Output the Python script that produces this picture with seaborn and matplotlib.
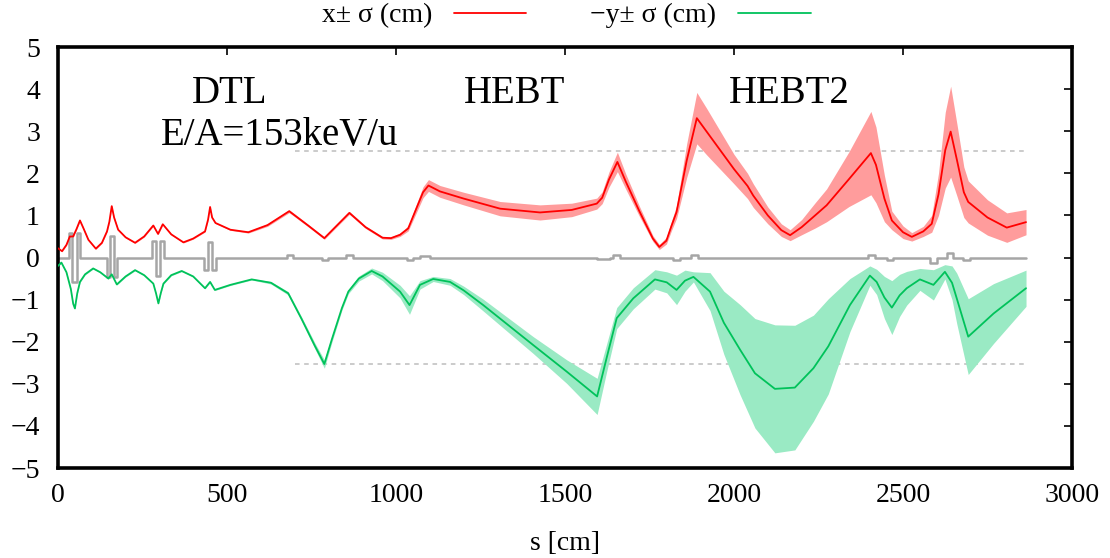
import numpy as np
import pandas as pd
import matplotlib
matplotlib.use("Agg")
import matplotlib.pyplot as plt
from matplotlib.lines import Line2D
import seaborn as sns

# ---- data ----
s_x = [0, 12, 25, 35, 45, 55, 65, 75, 90, 112, 130, 145, 152, 159, 166, 178, 200, 228, 255,
       282, 296, 310, 335, 371, 400, 435, 444, 450, 456, 466, 510, 563, 620, 684, 740, 788,
       820, 862, 910, 960, 985, 1012, 1036, 1060, 1080, 1096, 1130, 1200, 1308, 1426, 1520,
       1594, 1610, 1630, 1655, 1680, 1720, 1760, 1779, 1800, 1815, 1830, 1860, 1890, 1920,
       1960, 2000, 2040, 2057, 2100, 2140, 2166, 2200, 2240, 2274, 2340, 2405, 2420, 2445,
       2467, 2500, 2526, 2560, 2585, 2605, 2625, 2641, 2660, 2680, 2693, 2750, 2807, 2864]
x_mid = [0.22, 0.15, 0.30, 0.50, 0.50, 0.68, 0.88, 0.70, 0.42, 0.21, 0.35, 0.62, 0.85, 1.22,
         0.95, 0.66, 0.48, 0.35, 0.50, 0.76, 0.56, 0.79, 0.55, 0.36, 0.45, 0.62, 0.90, 1.20,
         0.95, 0.82, 0.66, 0.60, 0.77, 1.10, 0.76, 0.46, 0.72, 1.06, 0.72, 0.47, 0.46, 0.54,
         0.69, 1.16, 1.55, 1.71, 1.57, 1.40, 1.16, 1.07, 1.13, 1.28, 1.42, 1.85, 2.27, 1.80,
         1.10, 0.45, 0.25, 0.40, 0.75, 1.08, 2.30, 3.31, 2.98, 2.54, 2.10, 1.70, 1.47, 1.00,
         0.65, 0.53, 0.72, 1.00, 1.24, 1.86, 2.48, 2.20, 1.40, 0.88, 0.60, 0.49, 0.62, 0.80,
         1.50, 2.55, 2.99, 2.30, 1.55, 1.32, 0.95, 0.71, 0.84]
x_sig = [0.015] * 31 + [0.02, 0.03, 0.035, 0.03, 0.03, 0.03, 0.035, 0.03, 0.03, 0.03, 0.04,
         0.06, 0.10, 0.13, 0.14, 0.14, 0.15, 0.17, 0.18, 0.16, 0.13, 0.14, 0.18, 0.23, 0.18,
         0.12, 0.07, 0.06, 0.08, 0.11, 0.15, 0.40, 0.61, 0.55, 0.45, 0.35, 0.30, 0.28, 0.20,
         0.15, 0.13, 0.18, 0.30, 0.39, 0.65, 0.99, 0.90, 0.55, 0.22, 0.15, 0.10, 0.12, 0.20,
         0.50, 0.90, 1.08, 0.85, 0.60, 0.50, 0.42, 0.35, 0.30]

s_y = [0, 10, 25, 38, 45, 50, 57, 65, 80, 104, 125, 149, 159, 174, 200, 228, 255, 282, 290,
       297, 304, 312, 335, 366, 400, 435, 450, 464, 510, 573, 630, 681, 720, 760, 788, 810,
       840, 859, 890, 928, 960, 1012, 1040, 1071, 1110, 1160, 1200, 1258, 1406, 1505, 1595,
       1623, 1653, 1702, 1766, 1801, 1830, 1855, 1880, 1929, 1970, 2018, 2062, 2121, 2180,
       2235, 2279, 2343, 2402, 2422, 2445, 2467, 2490, 2511, 2550, 2590, 2624, 2645, 2659,
       2693, 2768, 2864]
y_mid = [-0.20, -0.12, -0.35, -0.75, -1.10, -1.21, -0.85, -0.58, -0.40, -0.26, -0.35, -0.50,
         -0.40, -0.64, -0.45, -0.30, -0.42, -0.62, -0.85, -1.09, -0.85, -0.62, -0.42, -0.32,
         -0.45, -0.73, -0.58, -0.77, -0.65, -0.52, -0.60, -0.85, -1.45, -2.10, -2.53, -1.95,
         -1.20, -0.81, -0.50, -0.32, -0.45, -0.81, -1.13, -0.65, -0.51, -0.58, -0.78, -1.13,
         -2.08, -2.71, -3.30, -2.39, -1.44, -0.97, -0.52, -0.59, -0.77, -0.55, -0.46, -0.81,
         -1.55, -2.19, -2.75, -3.12, -3.09, -2.63, -2.11, -1.13, -0.43, -0.58, -0.95, -1.19,
         -0.90, -0.73, -0.52, -0.65, -0.34, -0.60, -0.97, -1.88, -1.33, -0.73]
y_sig = [0.015] * 30 + [0.03, 0.04, 0.05, 0.07, 0.10, 0.07, 0.05, 0.05, 0.06, 0.07, 0.10,
         0.15, 0.22, 0.10, 0.06, 0.08, 0.10, 0.14, 0.20, 0.28, 0.43, 0.33, 0.25, 0.25, 0.23,
         0.25, 0.35, 0.25, 0.12, 0.45, 0.75, 1.07, 1.30, 1.52, 1.48, 1.26, 1.13, 0.63, 0.23,
         0.30, 0.50, 0.64, 0.50, 0.40, 0.26, 0.36, 0.17, 0.40, 0.60, 0.90, 0.71, 0.43]

# lattice (element) step line
lat_s = [0, 32, 42, 55, 66, 144, 154, 167, 176, 279, 289, 303, 313, 433, 443, 455, 466,
         677, 696, 780, 800, 852, 872, 1032, 1051, 1071, 1101, 1594, 1633, 1642, 1663,
         1820, 1840, 1874, 1894, 2397, 2417, 2452, 2471, 2580, 2600, 2629, 2649, 2678,
         2698, 2864]
lat_h = [0, 0.58, -0.58, 0.58, 0, -0.47, 0.50, -0.47, 0, 0.39, -0.43, 0.39, 0, -0.30, 0.37,
         -0.30, 0, 0.06, 0, -0.05, 0, 0.06, 0, -0.06, 0, 0.04, 0, -0.03, 0, 0.05, 0, -0.07,
         0, 0.05, 0, 0.06, 0, -0.06, 0, -0.12, 0, 0.11, 0, -0.06, 0, 0]

aperture = 2.54
aper_s = [700, 2864]

section_names = ["DTL", "HEBT", "HEBT2"]
section_s = [509, 1352, 2163]
energy_text = "E/A=153keV/u"
energy_s = 655

legend_labels = ["x\u00b1 \u03c3 (cm)", "\u2212y\u00b1 \u03c3 (cm)"]

# ---- style ----
sns.set_style("white")
plt.rcParams["font.family"] = ["Liberation Serif", "DejaVu Serif"]
plt.rcParams["axes.unicode_minus"] = True
plt.rcParams["text.color"] = "black"
plt.rcParams["axes.labelcolor"] = "black"
plt.rcParams["xtick.color"] = "black"
plt.rcParams["ytick.color"] = "black"

RED = "#ff0000"
RED_BAND = "#ff9c9c"
GREEN = "#00c25a"
GREEN_BAND = "#9aeac4"
GRAY = "#a6a6a6"

fig = plt.figure(figsize=(11.1, 5.58), dpi=100)
ax = fig.add_axes([58 / 1110, 1 - 468 / 558, (1072 - 58) / 1110, (468 - 47) / 558])

dfx = pd.DataFrame({"s": s_x, "mid": x_mid, "sig": x_sig})
dfy = pd.DataFrame({"s": s_y, "mid": y_mid, "sig": y_sig})
dfl = pd.DataFrame({"s": lat_s, "h": lat_h})

# aperture dashed lines
ax.plot(aper_s, [aperture, aperture], color="#bdbdbd", lw=1.1, ls=(0, (3, 3)), zorder=0.5)
ax.plot(aper_s, [-aperture, -aperture], color="#bdbdbd", lw=1.1, ls=(0, (3, 3)), zorder=0.5)

# bands
ax.fill_between(dfx["s"], dfx["mid"] - dfx["sig"], dfx["mid"] + dfx["sig"],
                color=RED_BAND, lw=0, zorder=1)
ax.fill_between(dfy["s"], dfy["mid"] - dfy["sig"], dfy["mid"] + dfy["sig"],
                color=GREEN_BAND, lw=0, zorder=1)

# lattice
sns.lineplot(data=dfl, x="s", y="h", ax=ax, color=GRAY, lw=1.8, drawstyle="steps-post",
             sort=False, estimator=None, zorder=2, legend=False)

# center lines
sns.lineplot(data=dfx, x="s", y="mid", ax=ax, color=RED, lw=1.3, sort=False,
             estimator=None, zorder=3, legend=False)
sns.lineplot(data=dfy, x="s", y="mid", ax=ax, color=GREEN, lw=1.3, sort=False,
             estimator=None, zorder=3, legend=False)

# annotations
for name, sx in zip(section_names, section_s):
    ax.text(sx, 3.67, name, fontsize=28, ha="center", va="baseline", zorder=4,
            color="black")
ax.text(energy_s, 2.67, energy_text, fontsize=28, ha="center", va="baseline", zorder=4,
        color="black")

# axes
ax.set_xlim(0, 3000)
ax.set_ylim(-5, 5)
ax.set_xticks(np.arange(0, 3001, 500))
ax.set_yticks(np.arange(-5, 6, 1))
ax.tick_params(direction="in", length=6, width=1.2, top=True, right=True,
               labelsize=20, colors="black", labelcolor="black")
ax.tick_params(axis="x", pad=11)
ax.tick_params(axis="y", pad=13)
for sp in ax.spines.values():
    sp.set_linewidth(2.6)
    sp.set_color("black")
    sp.set_visible(True)
ax.set_xlabel("s [cm]", fontsize=20, labelpad=16, color="black")
ax.set_ylabel("")
ax.grid(False)

handles = [Line2D([], [], color=RED, lw=1.3), Line2D([], [], color=GREEN, lw=1.3)]
leg = fig.legend(handles, legend_labels, loc="center", bbox_to_anchor=(0.51, 0.972),
                 ncol=2, frameon=False, fontsize=20, markerfirst=False, handlelength=2.6,
                 handletextpad=0.8, columnspacing=2.3)
for t in leg.get_texts():
    t.set_color("black")

fig.savefig("out.png", dpi=100)
